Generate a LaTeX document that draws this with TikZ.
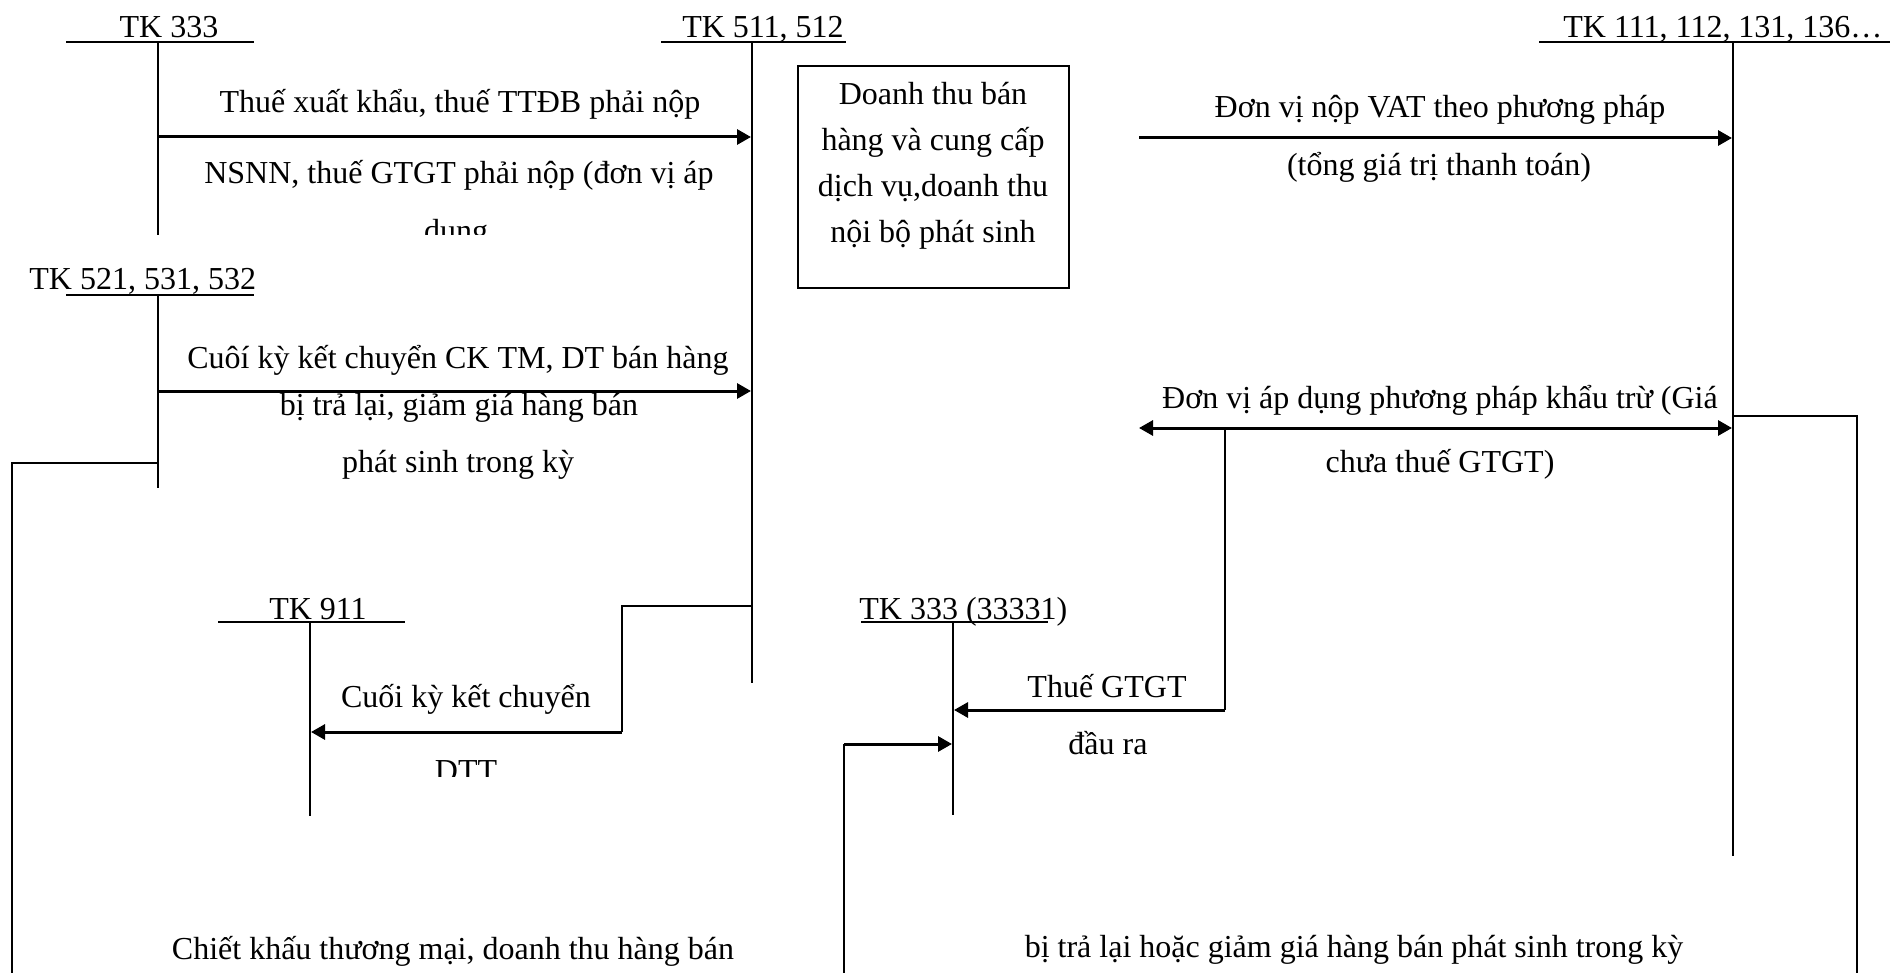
\documentclass[tikz,border=0pt]{standalone}
\usepackage{fontspec}
\setmainfont{Liberation Serif}
\usetikzlibrary{arrows.meta}
\begin{document}
\begin{tikzpicture}[x=0.5pt,y=-0.5pt,
  lbl/.style={anchor=base,inner sep=0pt,font=\fontsize{16}{19}\selectfont},
  acct/.style={line width=0.8pt},
  arr/.style={line width=1.5pt,-{Triangle[length=7pt,width=7.5pt]}},
  darr/.style={line width=1.5pt,{Triangle[length=7pt,width=7.5pt]}-{Triangle[length=7pt,width=7.5pt]}},
  conn/.style={line width=1pt},
  boxst/.style={draw,line width=1pt,inner sep=0pt,minimum width=135.5pt,minimum height=111pt}]
\useasboundingbox (0,0) rectangle (1890,973);

% ---------- account titles ----------
\node[lbl] (t333) at (169,38) {TK 333};
\node[lbl] (t511) at (763,38) {TK 511, 512};
\node[lbl,anchor=base west] (t111) at (1563,38) {TK 111, 112, 131, 136…};
\node[lbl,anchor=base west] (t521) at (29,290) {TK 521, 531, 532};
\node[lbl] (t911) at (318,619) {TK 911};
\node[lbl,anchor=base west] (t3331) at (859,619) {TK 333 (33331)};

% ---------- account T lines ----------
\coordinate (u333a) at (66,42);   \coordinate (u333b) at (254,42);
\coordinate (v333t) at (158,42);  \coordinate (v333b) at (158,235);
\coordinate (u511a) at (661,42);  \coordinate (u511b) at (846,42);
\coordinate (v511t) at (752,42);  \coordinate (v511b) at (752,683);
\coordinate (u111a) at (1539,42); \coordinate (u111b) at (1890,42);
\coordinate (v111t) at (1733,42); \coordinate (v111b) at (1733,856);
\coordinate (u521a) at (66,295);  \coordinate (u521b) at (254,295);
\coordinate (v521t) at (158,295); \coordinate (v521b) at (158,488);
\coordinate (u911a) at (218,622); \coordinate (u911b) at (405,622);
\coordinate (v911t) at (310,622); \coordinate (v911b) at (310,816);
\coordinate (u3331a) at (861,622); \coordinate (u3331b) at (1048,622);
\coordinate (v3331t) at (953,622); \coordinate (v3331b) at (953,815);

\foreach \a in {333,511,111,521,911,3331}{
  \draw[acct] (u\a a) -- (u\a b);
  \draw[acct] (v\a t) -- (v\a b);
}

% ---------- box ----------
\node[boxst] (box) at (933.5,177) {};
\node[lbl] (b1) at (933,105) {Doanh thu bán};
\node[lbl] (b2) at (933,151) {hàng và cung cấp};
\node[lbl] (b3) at (933,197) {dịch vụ,doanh thu};
\node[lbl] (b4) at (933,243) {nội bộ phát sinh};

% ---------- arrow 333 -> 511 ----------
\coordinate (a1s) at (158,137); \coordinate (a1e) at (751,137);
\draw[arr] (a1s) -- (a1e);
\node[lbl] (l1a) at (460,113) {Thuế xuất khẩu, thuế TTĐB phải nộp};
\node[lbl] (l1b) at (459,184) {NSNN, thuế GTGT phải nộp (đơn vị áp};
\begin{scope}
  \clip (300,190) rectangle (620,235);
  \node[lbl] (l1c) at (456,242) {dung};
\end{scope}

% ---------- arrow 521 -> 511 ----------
\coordinate (a2s) at (158,391); \coordinate (a2e) at (751,391);
\draw[arr] (a2s) -- (a2e);
\node[lbl] (l2a) at (458,368) {Cuôí kỳ kết chuyển CK TM, DT bán hàng};
\node[lbl] (l2b) at (459,415) {bị trả lại, giảm giá hàng bán};
\node[lbl] (l2c) at (458,472) {phát sinh trong kỳ};

% ---------- wrap 521 left/bottom ----------
\coordinate (w1a) at (158,463); \coordinate (w1b) at (12,463); \coordinate (w1c) at (12,973);
\draw[acct] (w1a) -- (w1b) -- (w1c);
\node[lbl] (l5) at (453,959) {Chiết khấu thương mại, doanh thu hàng bán};

% ---------- 511 -> 911 ----------
\coordinate (c1a) at (752,606); \coordinate (c1b) at (622,606);
\coordinate (c1c) at (622,732); \coordinate (c1d) at (311,732);
\draw[conn] (c1a) -- (c1b) -- (c1c);
\draw[arr] (c1c) -- (c1d);
\node[lbl] (l3a) at (466,707) {Cuối kỳ kết chuyển};
\begin{scope}
  \clip (400,740) rectangle (540,776);
  \node[lbl] (l3b) at (466,781) {DTT};
\end{scope}

% ---------- arrow -> 111 ----------
\coordinate (a3s) at (1139,138); \coordinate (a3e) at (1732,138);
\draw[arr] (a3s) -- (a3e);
\node[lbl] (l4a) at (1440,118) {Đơn vị nộp VAT theo phương pháp};
\node[lbl] (l4b) at (1439,176) {(tổng giá trị thanh toán)};

% ---------- double arrow ----------
\coordinate (d1s) at (1139,428); \coordinate (d1e) at (1732,428);
\draw[darr] (d1s) -- (d1e);
\node[lbl] (l6a) at (1440,408) {Đơn vị áp dụng phương pháp khẩu trừ (Giá};
\node[lbl] (l6b) at (1440,472) {chưa thuế GTGT)};

% ---------- drop to 33331 ----------
\coordinate (g1a) at (1225,428); \coordinate (g1b) at (1225,710); \coordinate (g1c) at (954,710);
\draw[conn] (g1a) -- (g1b);
\draw[arr] (g1b) -- (g1c);
\node[lbl] (l7a) at (1107,697) {Thuế GTGT};
\node[lbl] (l7b) at (1108,754) {đầu ra};

% ---------- right wrap from 111 ----------
\coordinate (r1a) at (1733,416); \coordinate (r1b) at (1857,416); \coordinate (r1c) at (1857,973);
\draw[acct] (r1a) -- (r1b) -- (r1c);
\node[lbl] (l8) at (1354,957) {bị trả lại hoặc giảm giá hàng bán phát sinh trong kỳ};

% ---------- bottom -> 33331 ----------
\coordinate (k1a) at (844,973); \coordinate (k1b) at (844,744); \coordinate (k1c) at (952,744);
\draw[conn] (k1a) -- (k1b);
\draw[arr] (k1b) -- (k1c);
\end{tikzpicture}
\end{document}
